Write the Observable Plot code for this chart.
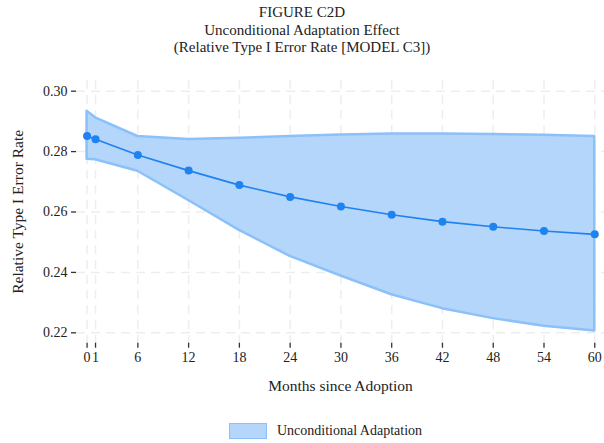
<!DOCTYPE html>
<html>
<head>
<meta charset="utf-8">
<script src="https://cdn.jsdelivr.net/npm/d3@7"></script>
<script src="https://cdn.jsdelivr.net/npm/@observablehq/plot@0.6"></script>
<style>
  body { margin: 0; background: #fff; font-family: "Liberation Serif", serif; color: #222; }
  #wrap { width: 604px; height: 443px; position: relative; overflow: hidden; }
  #title { position: absolute; top: 4px; left: 0; width: 604px; text-align: center; font-size: 15px; line-height: 17.5px; color: #222; }
  #chart { position: absolute; top: 62px; left: 0; }
  #legend { position: absolute; top: 423px; left: 229px; display: flex; align-items: center; font-size: 14px; color: #222; }
  #legend .sw { width: 36px; height: 14px; background: #b4d6fb; border: 1px solid #8cc0f8; margin-right: 10px; }
  g[aria-label="x-axis label"] text, g[aria-label="y-axis label"] text { font-size: 15.5px; }
  g[aria-label="x-axis tick label"] text, g[aria-label="y-axis tick label"] text { font-size: 14px; }
</style>
</head>
<body>
<div id="wrap">
  <div id="title">FIGURE C2D<br>Unconditional Adaptation Effect<br>(Relative Type I Error Rate [MODEL C3])</div>
  <div id="chart"></div>
  <div id="legend"><div class="sw"></div><span>Unconditional Adaptation</span></div>
</div>
<script>
const months   = [0, 1, 6, 12, 18, 24, 30, 36, 42, 48, 54, 60];
const meanRate = [0.2852, 0.2841, 0.2789, 0.2737, 0.2689, 0.2650, 0.2618, 0.2591, 0.2568, 0.2551, 0.2537, 0.2526];
const upperCI  = [0.2934, 0.2912, 0.2850, 0.2840, 0.2844, 0.2850, 0.2855, 0.2858, 0.2858, 0.2857, 0.2854, 0.2850];
const lowerCI  = [0.2775, 0.2773, 0.2735, 0.2638, 0.2539, 0.2453, 0.2388, 0.2326, 0.2280, 0.2247, 0.2222, 0.2206];
const xTicks   = [0, 1, 6, 12, 18, 24, 30, 36, 42, 48, 54, 60];
const yTicks   = [0.22, 0.24, 0.26, 0.28, 0.30];

const data = months.map((m, i) => ({m, mean: meanRate[i], hi: upperCI[i], lo: lowerCI[i]}));

const gridStyle = {stroke: "#eeeeee", strokeOpacity: 1, strokeWidth: 1.5, strokeDasharray: "9,6"};

const chart = Plot.plot({
  width: 604,
  height: 340,
  marginTop: 18,
  marginLeft: 76,
  marginRight: 0,
  marginBottom: 59.3,
  style: {fontFamily: "Liberation Serif, serif", fontSize: "14px", color: "#222", background: "transparent"},
  x: {domain: [-1.25, 61.15]},
  y: {domain: [0.21656, 0.30354]},
  marks: [
    Plot.gridX(xTicks, gridStyle),
    Plot.gridY(yTicks, gridStyle),
    Plot.areaY(data, {x: "m", y1: "lo", y2: "hi", fill: "#b4d6fb", fillOpacity: 1, stroke: "#8cc0f8", strokeWidth: 2.5, strokeLinejoin: "round"}),
    Plot.lineY(data, {x: "m", y: "mean", stroke: "#1e82f0", strokeWidth: 1.6}),
    Plot.dot(data, {x: "m", y: "mean", fill: "#1e82f0", r: 4}),
    Plot.axisX({ticks: xTicks, tickSize: 5, tickPadding: 4, line: true, stroke: "#333", strokeWidth: 1.3, tickFormat: d => String(d), fill: "#222",
      label: "Months since Adoption", labelAnchor: "center", labelArrow: "none", labelOffset: 48}),
    Plot.axisY({ticks: yTicks, tickSize: 5, tickPadding: 4, line: true, stroke: "#333", strokeWidth: 1.3, tickFormat: d3.format(".2f"), fill: "#222",
      label: "Relative Type I Error Rate", labelAnchor: "center", labelArrow: "none", labelOffset: 65})
  ]
});
document.getElementById("chart").appendChild(chart);
</script>
</body>
</html>
